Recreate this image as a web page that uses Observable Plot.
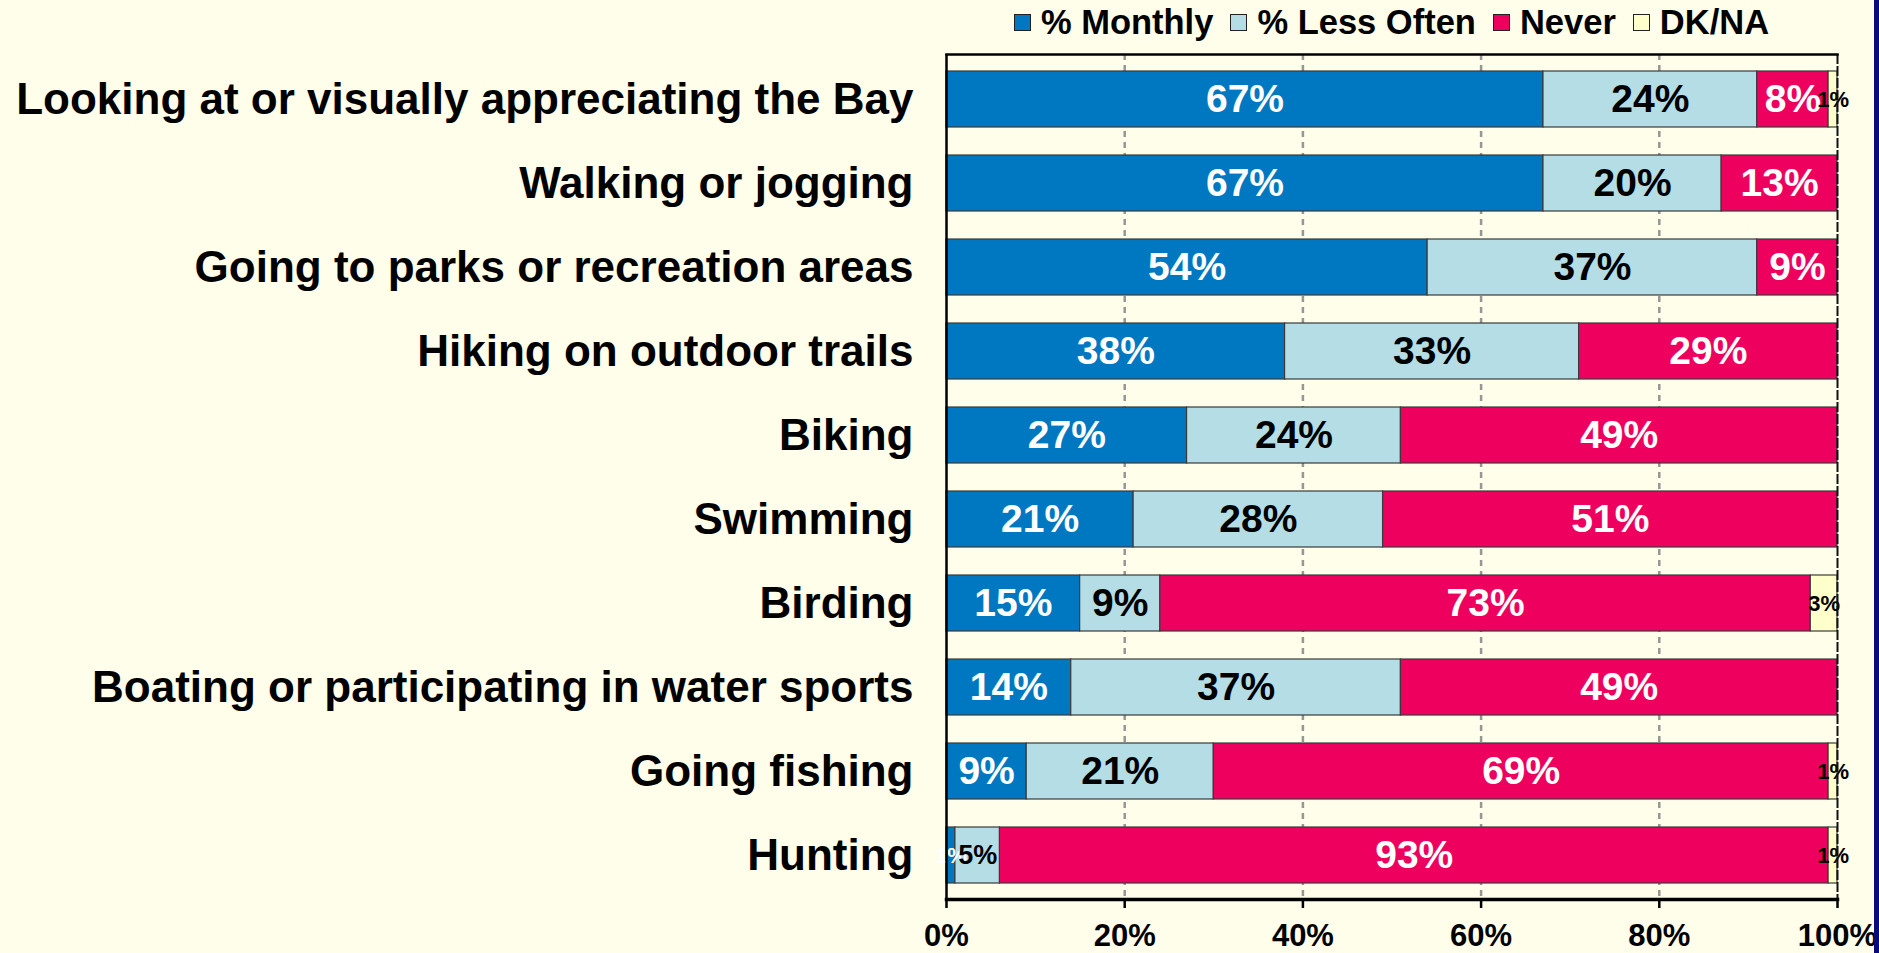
<!DOCTYPE html>
<html>
<head>
<meta charset="utf-8">
<script src="https://cdn.jsdelivr.net/npm/d3@7"></script>
<script src="https://cdn.jsdelivr.net/npm/@observablehq/plot@0.6"></script>
<style>
  html, body { margin: 0; padding: 0; background: #fefeea; width: 1879px; height: 953px; overflow: hidden; }
  body { font-family: "Liberation Sans", Arial, sans-serif; position: relative; }
  #legend { height: 44px; box-sizing: border-box; padding-left: 946px; padding-right: 42px; display: flex; justify-content: center; align-items: center; gap: 17px; font-weight: bold; font-size: 34.5px; color: #000; }
  #legend .item { display: flex; align-items: center; gap: 10px; }
  #legend .sw { width: 15px; height: 15px; border: 1.5px solid #222; }
  #navy { position: absolute; right: 0; top: 0; width: 5px; height: 953px; background: #0a0a78; }
  svg { display: block; }
</style>
</head>
<body>
<div id="legend"></div>
<div id="chart"></div>
<div id="navy"></div>
<script>
const categories = [
  "Looking at or visually appreciating the Bay",
  "Walking or jogging",
  "Going to parks or recreation areas",
  "Hiking on outdoor trails",
  "Biking",
  "Swimming",
  "Birding",
  "Boating or participating in water sports",
  "Going fishing",
  "Hunting"
];
const monthly   = [67, 67, 54, 38, 27, 21, 15, 14,  9,  1];
const lessOften = [24, 20, 37, 33, 24, 28,  9, 37, 21,  5];
const never     = [ 8, 13,  9, 29, 49, 51, 73, 49, 69, 93];
const dkna      = [ 1,  0,  0,  0,  0,  0,  3,  0,  1,  1];
const seriesNames = ["% Monthly", "% Less Often", "Never", "DK/NA"];
const seriesColors = ["#0078c1", "#b4dde6", "#ee005f", "#ffffcc"];
const whiteTextSeries = ["% Monthly", "Never"];
const xTicks = [0, 20, 40, 60, 80, 100];
const gridTicks = [20, 40, 60, 80];

const seriesValues = [monthly, lessOften, never, dkna];
const rows = [];
categories.forEach((c, i) => {
  seriesValues.forEach((arr, j) => {
    if (arr[i] > 0) rows.push({category: c, series: seriesNames[j], value: arr[i]});
  });
});

// legend
const legend = document.getElementById("legend");
seriesNames.forEach((s, j) => {
  const it = document.createElement("div");
  it.className = "item";
  const sw = document.createElement("div");
  sw.className = "sw";
  sw.style.background = seriesColors[j];
  const t = document.createElement("span");
  t.textContent = s;
  it.appendChild(sw); it.appendChild(t);
  legend.appendChild(it);
});

const isWhite = d => whiteTextSeries.includes(d.series);
const sizeClass = d => d.value <= 3 ? "s" : d.value <= 6 ? "m" : "l";
const sizes = {s: 22, m: 27, l: 39};
const lbl = (white, cls) => d => (isWhite(d) === white && sizeClass(d) === cls) ? d.value + "%" : "";
const stackOpts = (extra) => Plot.stackX({x: "value", y: "category", z: "series", ...extra});

const textMarks = [];
for (const white of [true, false]) {
  for (const cls of ["s", "m", "l"]) {
    textMarks.push(Plot.text(rows, stackOpts({text: lbl(white, cls), fill: white ? "white" : "black", fontSize: sizes[cls], fontWeight: "bold"})));
  }
}

const chart = Plot.plot({
  width: 1879,
  height: 909,
  marginTop: 10,
  marginBottom: 54,
  marginLeft: 946,
  marginRight: 42,
  style: {background: "transparent", fontFamily: "'Liberation Sans', Arial, sans-serif", color: "#000"},
  x: {domain: [0, 100], axis: null},
  y: {domain: categories, paddingInner: 0.337, paddingOuter: 0.16, axis: null},
  color: {domain: seriesNames, range: seriesColors},
  marks: [
    Plot.gridX({ticks: gridTicks, stroke: "#969696", strokeOpacity: 1, strokeWidth: 2.5, strokeDasharray: "6,5"}),
    Plot.barX(rows, stackOpts({fill: "series", stroke: "#3a3a3a", strokeWidth: 1.2})),
    ...textMarks,
    Plot.ruleX([0], {stroke: "black", strokeWidth: 2.5}),
    Plot.ruleX([100], {stroke: "#111", strokeWidth: 2, strokeDasharray: "10,2"}),
    Plot.frame({anchor: "top", stroke: "black", strokeWidth: 2.5}),
    Plot.frame({anchor: "bottom", stroke: "black", strokeWidth: 3.5}),
    Plot.axisY({tickSize: 0, tickPadding: 33, fontSize: 44, fontWeight: "bold", label: null}),
    Plot.axisX({ticks: xTicks, tickFormat: d => d + "%", tickSize: 9, tickPadding: 15, strokeWidth: 2.5, stroke: "black", fontSize: 31, fontWeight: "bold", label: null})
  ]
});
document.getElementById("chart").appendChild(chart);
</script>
</body>
</html>
